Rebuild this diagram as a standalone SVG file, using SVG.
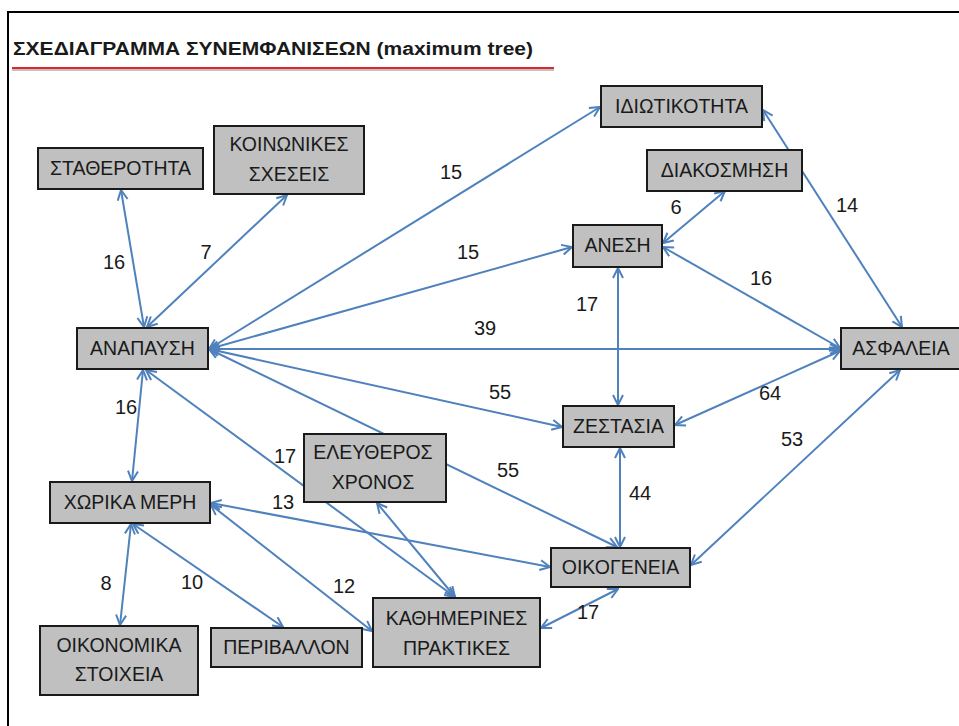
<svg xmlns="http://www.w3.org/2000/svg" width="959" height="726" viewBox="0 0 959 726">
<defs>
<style>
.node rect{fill:#c0c0c0;stroke:#1a1a1a;stroke-width:2}
.node text{font-family:"Liberation Sans",Arial,sans-serif;font-size:19.5px;fill:#1a1a1a;text-anchor:middle}
.lbl{font-family:"Liberation Sans",Arial,sans-serif;font-size:20px;fill:#1a1a1a;text-anchor:middle}
.edges line{stroke:#4f81bd;stroke-width:2;marker-start:url(#ah);marker-end:url(#ah)}
</style>
<marker id="ah" viewBox="0 0 12 12" refX="11" refY="6" markerWidth="12" markerHeight="12" markerUnits="userSpaceOnUse" orient="auto-start-reverse">
<path d="M1,1 L11,6 L1,11" fill="none" stroke="#4f81bd" stroke-width="2" stroke-linejoin="miter"/>
</marker>
</defs>
<rect x="0" y="0" width="959" height="726" fill="#ffffff"/>
<rect x="8" y="12" width="970" height="730" fill="none" stroke="#000" stroke-width="2"/>
<text x="13" y="55" font-family="'Liberation Sans',Arial,sans-serif" font-size="18" font-weight="bold" fill="#1a1a1a" textLength="520" lengthAdjust="spacingAndGlyphs">ΣΧΕΔΙΑΓΡΑΜΜΑ ΣΥΝΕΜΦΑΝΙΣΕΩΝ (maximum tree)</text>
<line x1="12" y1="70" x2="554" y2="70" stroke="#999" stroke-width="2" opacity="0.6"/>
<line x1="12" y1="68" x2="554" y2="68" stroke="#e3262a" stroke-width="2.2"/>

<g id="connectors" class="edges">
<line x1="121" y1="190" x2="144" y2="327"/>
<line x1="287" y1="195" x2="147" y2="327"/>
<line x1="209" y1="349" x2="600" y2="107"/>
<line x1="209" y1="349" x2="572" y2="247"/>
<line x1="209" y1="349" x2="840" y2="349"/>
<line x1="209" y1="349" x2="562" y2="427"/>
<line x1="209" y1="349" x2="617" y2="547"/>
<line x1="143" y1="370" x2="132" y2="481"/>
<line x1="146" y1="370" x2="455" y2="597"/>
<line x1="377" y1="503" x2="455" y2="597"/>
<line x1="211" y1="503" x2="550" y2="567"/>
<line x1="211" y1="505" x2="372" y2="631"/>
<line x1="131" y1="524" x2="120" y2="625"/>
<line x1="133" y1="524" x2="283" y2="627"/>
<line x1="618" y1="268" x2="618" y2="405"/>
<line x1="663" y1="243" x2="725" y2="191"/>
<line x1="663" y1="247" x2="840" y2="348"/>
<line x1="763" y1="110" x2="902" y2="327"/>
<line x1="675" y1="425" x2="840" y2="351"/>
<line x1="691" y1="565" x2="900" y2="370"/>
<line x1="620" y1="448" x2="620" y2="547"/>
<line x1="618" y1="589" x2="541" y2="628"/>
</g>

<g id="n-idiotikotita" class="node"><rect x="601" y="86" width="161" height="41"/><text x="681.5" y="113">ΙΔΙΩΤΙΚΟΤΗΤΑ</text></g>
<g id="n-diakosmisi" class="node"><rect x="647" y="150" width="155" height="41"/><text x="724.5" y="177">ΔΙΑΚΟΣΜΗΣΗ</text></g>
<g id="n-anesi" class="node"><rect x="573" y="225" width="89" height="42"/><text x="617.5" y="252">ΑΝΕΣΗ</text></g>
<g id="n-statherotita" class="node"><rect x="38" y="148" width="165" height="41"/><text x="120.5" y="175">ΣΤΑΘΕΡΟΤΗΤΑ</text></g>
<g id="n-koinonikes" class="node"><rect x="214" y="126" width="150" height="68"/><text x="289" y="151">ΚΟΙΝΩΝΙΚΕΣ</text><text x="289" y="181">ΣΧΕΣΕΙΣ</text></g>
<g id="n-anapausi" class="node"><rect x="77" y="328" width="131" height="41"/><text x="142.5" y="355">ΑΝΑΠΑΥΣΗ</text></g>
<g id="n-asfaleia" class="node"><rect x="841" y="328" width="125" height="41"/><text x="901" y="355">ΑΣΦΑΛΕΙΑ</text></g>
<g id="n-zestasia" class="node"><rect x="563" y="406" width="111" height="41"/><text x="618.5" y="433">ΖΕΣΤΑΣΙΑ</text></g>
<g id="n-eleftheros" class="node"><rect x="304" y="434" width="142" height="68"/><text x="373" y="459">ΕΛΕΥΘΕΡΟΣ</text><text x="373" y="489">ΧΡΟΝΟΣ</text></g>
<g id="n-oikogeneia" class="node"><rect x="551" y="548" width="139" height="39"/><text x="620.5" y="574">ΟΙΚΟΓΕΝΕΙΑ</text></g>
<g id="n-kathimerines" class="node"><rect x="373" y="598" width="167" height="69"/><text x="456.5" y="625">ΚΑΘΗΜΕΡΙΝΕΣ</text><text x="456.5" y="655">ΠΡΑΚΤΙΚΕΣ</text></g>
<g id="n-xorika" class="node"><rect x="50" y="482" width="160" height="41"/><text x="130" y="509">ΧΩΡΙΚΑ ΜΕΡΗ</text></g>
<g id="n-oikonomika" class="node"><rect x="40" y="626" width="158" height="69"/><text x="119" y="652">ΟΙΚΟΝΟΜΙΚΑ</text><text x="119" y="681">ΣΤΟΙΧΕΙΑ</text></g>
<g id="n-perivallon" class="node"><rect x="211" y="628" width="151" height="39"/><text x="286.5" y="654">ΠΕΡΙΒΑΛΛΟΝ</text></g>

<g id="labels">
<text class="lbl" x="114" y="269">16</text>
<text class="lbl" x="206" y="259">7</text>
<text class="lbl" x="451" y="179">15</text>
<text class="lbl" x="468" y="259">15</text>
<text class="lbl" x="485" y="335">39</text>
<text class="lbl" x="500" y="399">55</text>
<text class="lbl" x="587" y="311">17</text>
<text class="lbl" x="676" y="214">6</text>
<text class="lbl" x="847" y="212">14</text>
<text class="lbl" x="761" y="285">16</text>
<text class="lbl" x="770" y="400">64</text>
<text class="lbl" x="792" y="446">53</text>
<text class="lbl" x="126" y="414">16</text>
<text class="lbl" x="285" y="463">17</text>
<text class="lbl" x="283" y="509">13</text>
<text class="lbl" x="508" y="477">55</text>
<text class="lbl" x="640" y="500">44</text>
<text class="lbl" x="106" y="590">8</text>
<text class="lbl" x="192" y="589">10</text>
<text class="lbl" x="344" y="593">12</text>
<text class="lbl" x="588" y="619">17</text>
</g>
</svg>
